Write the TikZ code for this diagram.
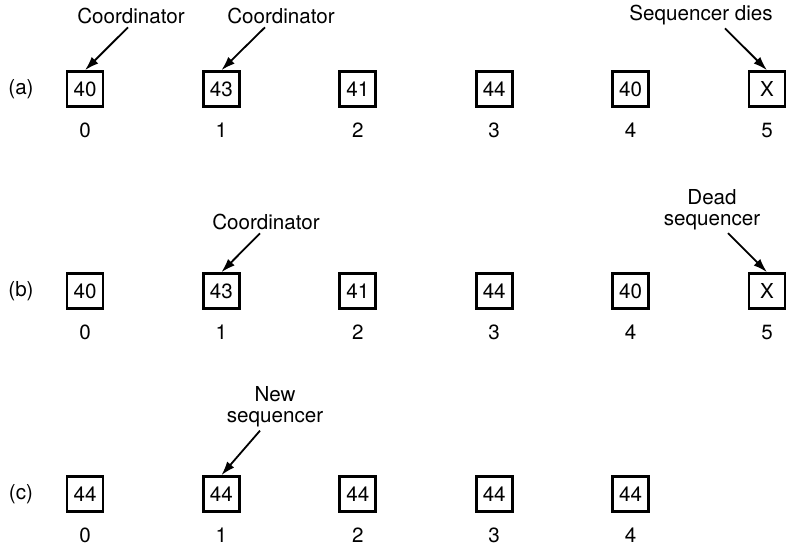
\documentclass[tikz,border=0pt]{standalone}
\usepackage{fontspec}
\setmainfont{TeX Gyre Heros}
\usetikzlibrary{arrows.meta,positioning}

\begin{document}
\begin{tikzpicture}[
  node distance=7.4pt and 48.8pt,
  every node/.style={font=\fontsize{10.3}{10.5}\selectfont,align=center},
  cell/.style={draw=black,line width=1.4pt,minimum width=18pt,
               minimum height=17.4pt,inner sep=0pt},
  slot/.style={inner sep=0pt},
  note/.style={inner sep=1.5pt},
  pointer/.style={-{Latex[length=7pt,width=4.6pt]},line width=0.9pt}
]
\useasboundingbox (0,0) rectangle (393pt,-274pt);
% (a) the sequencer dies
\node (ra) at (10.5pt,-44.5pt) {(a)};
\node[cell] (a0) at (42.5pt,-44.5pt) {40};
\node[cell,right=of a0] (a1) {43};
\node[cell,right=of a1] (a2) {41};
\node[cell,right=of a2] (a3) {44};
\node[cell,right=of a3] (a4) {40};
\node[cell,right=of a4] (a5) {X};
\node[slot,below=of a0] (na0) {0};
\node[slot,below=of a1] (na1) {1};
\node[slot,below=of a2] (na2) {2};
\node[slot,below=of a3] (na3) {3};
\node[slot,below=of a4] (na4) {4};
\node[slot,below=of a5] (na5) {5};
\node[note] (la0) at (65.5pt,-8pt) {Coordinator};
\node[note] (la1) at (140.5pt,-8pt) {Coordinator};
\node[note] (la5) at (350.5pt,-7.5pt) {Sequencer dies};
\draw[pointer] ([xshift=-1.5pt]la0.south) -- (a0.north);
\draw[pointer] ([xshift=-8pt]la1.south) -- (a1.north);
\draw[pointer] ([xshift=12pt]la5.south) -- (a5.north);
% (b) dead sequencer still listed
\node (rb) at (10.5pt,-145.5pt) {(b)};
\node[cell] (b0) at (42.5pt,-145.5pt) {40};
\node[cell,right=of b0] (b1) {43};
\node[cell,right=of b1] (b2) {41};
\node[cell,right=of b2] (b3) {44};
\node[cell,right=of b3] (b4) {40};
\node[cell,right=of b4] (b5) {X};
\node[slot,below=of b0] (nb0) {0};
\node[slot,below=of b1] (nb1) {1};
\node[slot,below=of b2] (nb2) {2};
\node[slot,below=of b3] (nb3) {3};
\node[slot,below=of b4] (nb4) {4};
\node[slot,below=of b5] (nb5) {5};
\node[note] (lb1) at (133pt,-111pt) {Coordinator};
\node[note] (lb5) at (356pt,-104.75pt) {Dead\\sequencer};
\draw[pointer] ([xshift=-3pt]lb1.south) -- (b1.north);
\draw[pointer] ([xshift=8pt]lb5.south) -- (b5.north);
% (c) new sequencer
\node (rc) at (10.5pt,-247pt) {(c)};
\node[cell] (c0) at (42.5pt,-247pt) {44};
\node[cell,right=of c0] (c1) {44};
\node[cell,right=of c1] (c2) {44};
\node[cell,right=of c2] (c3) {44};
\node[cell,right=of c3] (c4) {44};
\node[slot,below=of c0] (nc0) {0};
\node[slot,below=of c1] (nc1) {1};
\node[slot,below=of c2] (nc2) {2};
\node[slot,below=of c3] (nc3) {3};
\node[slot,below=of c4] (nc4) {4};
\node[note] (lc1) at (137.5pt,-203.5pt) {New\\sequencer};
\draw[pointer] ([xshift=-7.5pt]lc1.south) -- (c1.north);
\end{tikzpicture}
\end{document}
